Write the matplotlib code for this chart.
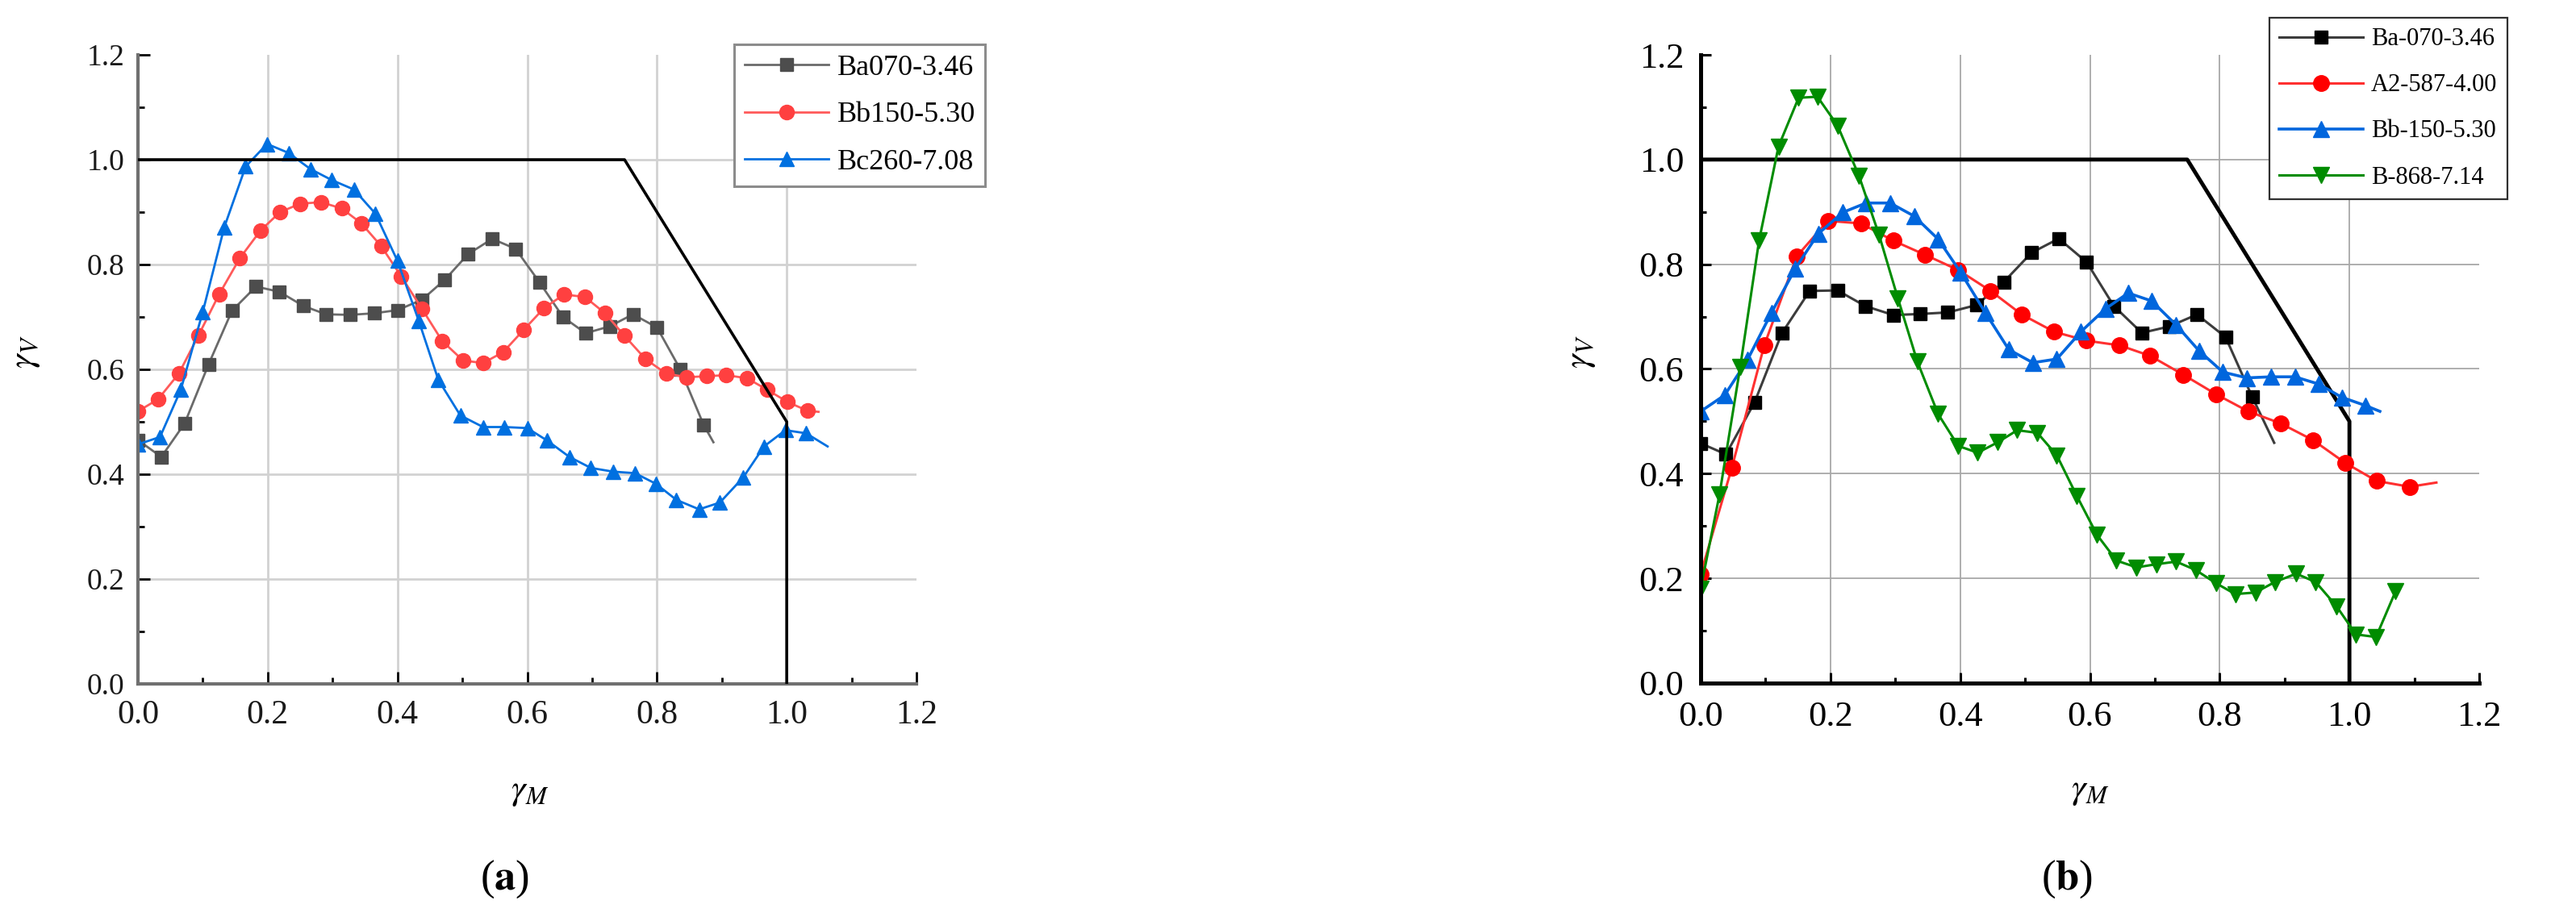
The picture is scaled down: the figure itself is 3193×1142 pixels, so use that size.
#!/usr/bin/env python3
"""
Interaction diagram gamma_V vs gamma_M, two panels (a) and (b).
Values read off the reference picture.
"""

import matplotlib
matplotlib.use("Agg")  # headless
import matplotlib.pyplot as plt
from matplotlib.ticker import MultipleLocator

# ============== CONFIG ==============
W, H, DPI = 3193, 1142, 100
SERIF = ["Liberation Serif", "DejaVu Serif"]

plt.rcParams["font.family"] = SERIF
plt.rcParams["mathtext.fontset"] = "stix"

# ------------------ Data: panel (a) ------------------
# last x/y pair of each series is the end of the line (no marker)
a_ba070_x = [0.0, 0.036, 0.072, 0.109, 0.145, 0.182, 0.218, 0.255, 0.290, 0.327,
             0.364, 0.400, 0.438, 0.473, 0.509, 0.546, 0.582, 0.619, 0.655, 0.690,
             0.727, 0.763, 0.800, 0.836, 0.872, 0.887]
a_ba070_y = [0.465, 0.433, 0.497, 0.610, 0.712, 0.758, 0.748, 0.721, 0.705, 0.704,
             0.707, 0.713, 0.733, 0.771, 0.820, 0.849, 0.830, 0.766, 0.700, 0.669,
             0.682, 0.705, 0.680, 0.600, 0.494, 0.461]

a_bb150_x = [0.0, 0.031, 0.063, 0.093, 0.125, 0.157, 0.189, 0.219, 0.250, 0.282,
             0.314, 0.344, 0.375, 0.406, 0.438, 0.469, 0.501, 0.532, 0.563, 0.595,
             0.626, 0.657, 0.689, 0.720, 0.750, 0.782, 0.814, 0.846, 0.877, 0.907,
             0.939, 0.970, 1.001, 1.032, 1.049]
a_bb150_y = [0.520, 0.543, 0.592, 0.664, 0.743, 0.812, 0.865, 0.900, 0.916, 0.919,
             0.907, 0.879, 0.835, 0.777, 0.715, 0.654, 0.617, 0.612, 0.633, 0.676,
             0.717, 0.743, 0.738, 0.707, 0.664, 0.620, 0.592, 0.585, 0.587, 0.589,
             0.583, 0.561, 0.538, 0.521, 0.519]

a_bc260_x = [0.0, 0.034, 0.066, 0.100, 0.133, 0.166, 0.199, 0.232, 0.266, 0.299,
             0.333, 0.366, 0.400, 0.433, 0.463, 0.497, 0.532, 0.565, 0.600, 0.631,
             0.665, 0.698, 0.732, 0.766, 0.798, 0.830, 0.865, 0.897, 0.933, 0.965,
             0.998, 1.030, 1.063]
a_bc260_y = [0.457, 0.471, 0.561, 0.710, 0.871, 0.987, 1.030, 1.013, 0.982, 0.961,
             0.943, 0.897, 0.807, 0.692, 0.580, 0.512, 0.490, 0.490, 0.488, 0.464,
             0.433, 0.412, 0.405, 0.402, 0.382, 0.351, 0.333, 0.346, 0.394, 0.453,
             0.484, 0.478, 0.453]

# ------------------ Data: panel (b) ------------------
b_ba070_x = [0.0, 0.039, 0.083, 0.125, 0.168, 0.211, 0.254, 0.297, 0.338, 0.381,
             0.425, 0.467, 0.510, 0.552, 0.595, 0.637, 0.680, 0.722, 0.765, 0.809,
             0.850, 0.884]
b_ba070_y = [0.458, 0.437, 0.536, 0.668, 0.749, 0.750, 0.720, 0.703, 0.705, 0.708,
             0.722, 0.766, 0.822, 0.849, 0.804, 0.720, 0.669, 0.681, 0.704, 0.661,
             0.547, 0.459]

b_a2587_x = [0.0, 0.048, 0.098, 0.148, 0.196, 0.247, 0.297, 0.346, 0.397, 0.447,
             0.495, 0.545, 0.595, 0.646, 0.693, 0.744, 0.794, 0.844, 0.894, 0.944,
             0.993, 1.042, 1.093, 1.134]
b_a2587_y = [0.208, 0.411, 0.645, 0.815, 0.883, 0.878, 0.845, 0.818, 0.789, 0.749,
             0.704, 0.671, 0.654, 0.645, 0.625, 0.589, 0.552, 0.519, 0.496, 0.464,
             0.421, 0.386, 0.375, 0.383]

b_bb150_x = [0.0, 0.037, 0.072, 0.109, 0.146, 0.181, 0.219, 0.255, 0.292, 0.329,
             0.366, 0.401, 0.439, 0.475, 0.512, 0.549, 0.586, 0.624, 0.659, 0.695,
             0.733, 0.768, 0.805, 0.842, 0.879, 0.916, 0.953, 0.988, 1.025, 1.047]
b_bb150_y = [0.519, 0.550, 0.617, 0.707, 0.792, 0.858, 0.899, 0.917, 0.917, 0.892,
             0.848, 0.784, 0.707, 0.637, 0.612, 0.619, 0.671, 0.715, 0.745, 0.730,
             0.684, 0.635, 0.594, 0.583, 0.585, 0.585, 0.571, 0.546, 0.530, 0.519]

b_b868_x = [0.0, 0.029, 0.061, 0.090, 0.120, 0.151, 0.180, 0.211, 0.244, 0.275,
            0.304, 0.334, 0.366, 0.397, 0.427, 0.458, 0.488, 0.519, 0.549, 0.580,
            0.611, 0.641, 0.672, 0.702, 0.733, 0.763, 0.794, 0.824, 0.855, 0.885,
            0.918, 0.948, 0.980, 1.010, 1.041, 1.071]
b_b868_y = [0.180, 0.360, 0.604, 0.845, 1.025, 1.118, 1.120, 1.065, 0.969, 0.856,
            0.735, 0.614, 0.514, 0.453, 0.440, 0.460, 0.483, 0.478, 0.435, 0.357,
            0.283, 0.234, 0.221, 0.227, 0.232, 0.216, 0.191, 0.170, 0.173, 0.193,
            0.209, 0.193, 0.147, 0.093, 0.088, 0.175]

# interaction limit (black polyline)
limit_x = [0.0, 0.75, 1.0, 1.0]
limit_y = [1.0, 1.0, 0.5, 0.0]


# ------------------ Helpers ------------------
def px_rect(x0, y0, x1, y1):
    """pixel box (top-left origin) -> figure fraction rect"""
    return [x0 / W, 1 - y1 / H, (x1 - x0) / W, (y1 - y0) / H]


def series(ax, x, y, label, marker, ms, mcolor, lcolor, lw, tail=True):
    n = len(x) - 1 if tail else len(x)
    ax.plot(x, y, color=lcolor, lw=lw, marker=marker, ms=ms,
            mfc=mcolor, mec=mcolor, markevery=list(range(n)), label=label)


def style_axes(ax, spine_c, spine_w, grid_c, grid_w, tick_len, tick_w,
               xfs, yfs, xpad, ypad, label_c):
    ax.set_xlim(0, 1.2)
    ax.set_ylim(0, 1.2)
    for loc in ("top", "right"):
        ax.spines[loc].set_visible(False)
    for loc in ("left", "bottom"):
        ax.spines[loc].set_color(spine_c)
        ax.spines[loc].set_linewidth(spine_w)
    ax.xaxis.set_major_locator(MultipleLocator(0.2))
    ax.xaxis.set_minor_locator(MultipleLocator(0.1))
    ax.yaxis.set_major_locator(MultipleLocator(0.2))
    ax.yaxis.set_minor_locator(MultipleLocator(0.1))
    ax.set_xticks([0, 0.2, 0.4, 0.6, 0.8, 1.0, 1.2])
    ax.set_yticks([0, 0.2, 0.4, 0.6, 0.8, 1.0, 1.2])
    ax.set_xticklabels(["0.0", "0.2", "0.4", "0.6", "0.8", "1.0", "1.2"])
    ax.set_yticklabels(["0.0", "0.2", "0.4", "0.6", "0.8", "1.0", "1.2"])
    ax.tick_params(which="both", direction="in", color="black", width=tick_w)
    ax.tick_params(which="major", length=tick_len)
    ax.tick_params(which="minor", length=tick_len * 0.55)
    ax.tick_params(axis="x", labelsize=xfs, pad=xpad, labelcolor=label_c)
    ax.tick_params(axis="y", labelsize=yfs, pad=ypad, labelcolor=label_c)
    ax.grid(True, which="major", color=grid_c, lw=grid_w)
    ax.set_axisbelow(True)
    # no grid line on the outer edges
    for t in ax.xaxis.get_major_ticks() + ax.yaxis.get_major_ticks():
        if abs(t.get_loc() - 1.2) < 1e-6 or abs(t.get_loc()) < 1e-6:
            t.gridline.set_visible(False)


# ------------------ Figure ------------------
fig = plt.figure(figsize=(W / DPI, H / DPI), dpi=DPI)
ax_a = fig.add_axes(px_rect(171, 68, 1136, 848))
ax_b = fig.add_axes(px_rect(2108, 68, 3073, 847))

# ---- panel (a) ----
style_axes(ax_a, "#707070", 3.0, "#d2d2d2", 2.0, 11, 2.0,
           30, 27, 14, 12, "#1a1a1a")
series(ax_a, a_ba070_x, a_ba070_y, "Ba070-3.46", "s", 11, "#4d4d4d", "#6a6a6a", 2.0)
series(ax_a, a_bb150_x, a_bb150_y, "Bb150-5.30", "o", 13, "#ff4040", "#ff5a5a", 2.0)
series(ax_a, a_bc260_x, a_bc260_y, "Bc260-7.08", "^", 13, "#0070e0", "#0070e0", 2.0)
ax_a.plot(limit_x, limit_y, color="black", lw=2.6, zorder=5)

ax_a.set_xlabel(r"$\gamma_M$", fontsize=32)
ax_a.set_ylabel(r"$\gamma_V$", fontsize=32, rotation=90)
ax_a.xaxis.set_label_coords(0.503, -0.146)
ax_a.yaxis.set_label_coords(-0.123, 0.528)

leg_a = fig.legend(handles=ax_a.get_lines()[:3], loc="upper left",
                   bbox_to_anchor=(910 / W, 1 - 55 / H), bbox_transform=fig.transFigure,
                   fontsize=26, handlelength=2.9, handletextpad=0.28,
                   labelspacing=0.70, borderpad=0.35, borderaxespad=0,
                   fancybox=False, framealpha=1, edgecolor="#8c8c8c")
leg_a.get_frame().set_linewidth(2.2)

# ---- panel (b) ----
style_axes(ax_b, "black", 3.6, "#a8a8a8", 1.3, 9.5, 2.2,
           32, 32, 16, 15, "black")
series(ax_b, b_ba070_x, b_ba070_y, "Ba-070-3.46", "s", 11.5, "black", "#3c3c3c", 2.2)
series(ax_b, b_a2587_x, b_a2587_y, "A2-587-4.00", "o", 14, "#ff0000", "#ff3030", 2.2)
series(ax_b, b_bb150_x, b_bb150_y, "Bb-150-5.30", "^", 14, "#0066dd", "#0066dd", 2.6)
series(ax_b, b_b868_x, b_b868_y, "B-868-7.14", "v", 15, "#008c00", "#008c00", 2.2,
       tail=False)
ax_b.plot(limit_x, limit_y, color="black", lw=3.5, zorder=1.5)

ax_b.set_xlabel(r"$\gamma_M$", fontsize=32)
ax_b.set_ylabel(r"$\gamma_V$", fontsize=32, rotation=90)
ax_b.xaxis.set_label_coords(0.5, -0.146)
ax_b.yaxis.set_label_coords(-0.133, 0.528)

leg_b = fig.legend(handles=ax_b.get_lines()[:4], loc="upper left",
                   bbox_to_anchor=(2813 / W, 1 - 22 / H), bbox_transform=fig.transFigure,
                   fontsize=22, handlelength=3.4, handletextpad=0.33,
                   labelspacing=0.92, borderpad=0.4, borderaxespad=0,
                   fancybox=False, framealpha=1, edgecolor="#303030")
leg_b.get_frame().set_linewidth(1.6)

# ---- panel captions ----
fig.text(626 / W, 1 - 1090 / H, r"($\mathbf{a}$)", fontsize=38,
         ha="center", va="center")
fig.text(2562 / W, 1 - 1090 / H, r"($\mathbf{b}$)", fontsize=38,
         ha="center", va="center")

fig.savefig("out.png", dpi=DPI, facecolor="white")
plt.close(fig)
